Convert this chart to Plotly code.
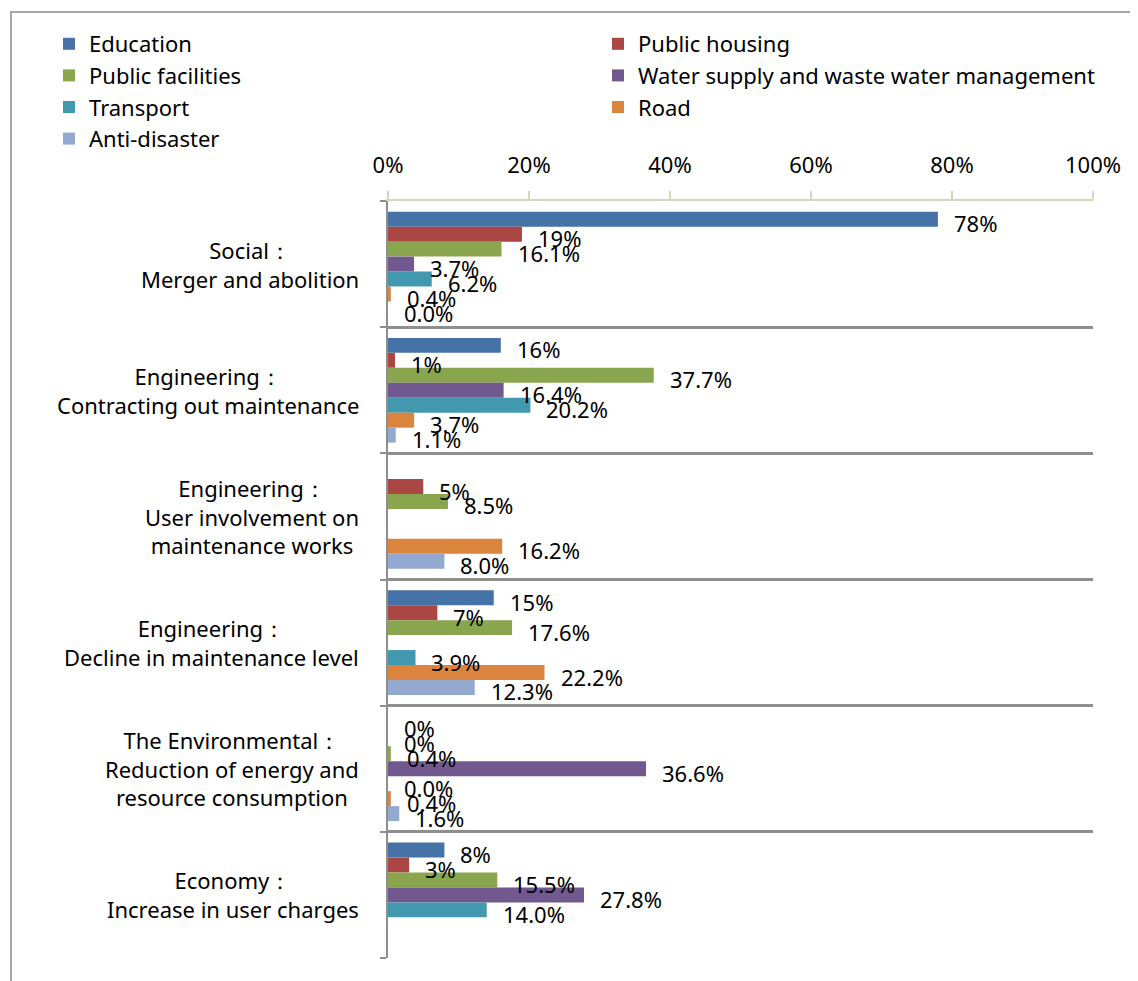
import plotly.graph_objects as go

# ---------------- data ----------------
categories = [
    "Social：<br>Merger and abolition",
    "Engineering：<br>Contracting out maintenance",
    "Engineering：<br>User involvement on<br>maintenance works",
    "Engineering：<br>Decline in maintenance level",
    "The Environmental：<br>Reduction of energy and<br>resource consumption",
    "Economy：<br>Increase in user charges",
]
series_names = ["Education", "Public housing", "Public facilities",
                "Water supply and waste water management", "Transport",
                "Road", "Anti-disaster"]
education = [78, 16, None, 15, 0, 8]
public_housing = [19, 1, 5, 7, 0, 3]
public_facilities = [16.1, 37.7, 8.5, 17.6, 0.4, 15.5]
water_supply = [3.7, 16.4, None, None, 36.6, 27.8]
transport = [6.2, 20.2, None, 3.9, 0.0, 14.0]
road = [0.4, 3.7, 16.2, 22.2, 0.4, None]
anti_disaster = [0.0, 1.1, 8.0, 12.3, 1.6, None]
label_decimals = [0, 0, 1, 1, 1, 1, 1]
x_ticks = [0, 20, 40, 60, 80, 100]
x_tick_labels = ["0%", "20%", "40%", "60%", "80%", "100%"]

series_values = [education, public_housing, public_facilities, water_supply,
                 transport, road, anti_disaster]
colors = ["#4572A7", "#AA4643", "#89A54E", "#71588F", "#4198AF", "#DB843D", "#93A9CF"]
legend_column = ["legend", "legend2", "legend", "legend2", "legend", "legend2", "legend"]

FONT = "Noto Sans"
FS = 22
BARGAP = 0.17

fig = go.Figure()
idx = list(range(len(categories)))
for name, vals, col, lg in zip(series_names, series_values, colors, legend_column):
    fig.add_trace(go.Bar(
        y=idx, x=vals, name=name, orientation="h", legend=lg,
        marker=dict(color=col, line=dict(width=0)),
    ))

annotations = []
n = len(series_values)
slot = (1 - BARGAP) / n
for i, (vals, dec) in enumerate(zip(series_values, label_decimals)):
    off = -(1 - BARGAP) / 2 + (i + 0.5) * slot
    for c, v in enumerate(vals):
        if v is None:
            continue
        annotations.append(dict(
            x=v, y=c + off, xref="x", yref="y", text=f"{v:.{dec}f}%",
            showarrow=False, xanchor="left", yanchor="middle",
            xshift=14, yshift=-4, font=dict(family=FONT, size=FS, color="#000000"),
        ))

for c, lab in enumerate(categories):
    annotations.append(dict(
        x=0, y=c, xref="paper", yref="y", text=lab, showarrow=False,
        xanchor="right", yanchor="middle", align="center", xshift=-27,
        font=dict(family=FONT, size=FS, color="#000000"),
    ))

# page has an 8px body margin; figure is sized so it ends at the window edge
OFF = 8
W, H = 1138 - OFF, 981 - OFF
L, R, T, B = 388 - OFF, 45, 201 - OFF, 23
pw, ph = W - L - R, H - T - B
def px_x(p):  # page pixel -> paper x
    return (p - OFF - L) / pw
def px_y(p):  # page pixel -> paper y
    return (H - B - (p - OFF)) / ph

shapes = [dict(type="rect", xref="paper", yref="paper",
               x0=px_x(11), x1=px_x(1137), y0=px_y(995), y1=px_y(12),
               line=dict(color="#A6A6A6", width=2), fillcolor="rgba(0,0,0,0)",
               layer="below")]

legend_common = dict(
    orientation="v", xref="container", yref="container",
    y=1 - 15 / H, xanchor="left", yanchor="top", traceorder="normal",
    font=dict(family=FONT, size=FS, color="#000000"),
    itemclick=False, bgcolor="rgba(0,0,0,0)",
)

fig.update_layout(
    width=W, height=H,
    margin=dict(l=L, r=R, t=T, b=B, pad=0, autoexpand=False),
    paper_bgcolor="white", plot_bgcolor="white",
    barmode="group", bargap=BARGAP, bargroupgap=0,
    font=dict(family=FONT, size=FS, color="#000000"),
    showlegend=True,
    legend=dict(x=41 / W, **legend_common),
    legend2=dict(x=590 / W, **legend_common),
    xaxis=dict(
        side="top", range=[0, 100], tickvals=x_ticks, ticktext=x_tick_labels,
        showgrid=False, zeroline=False, showline=True, linecolor="#D8D3BC",
        linewidth=2, ticks="outside", ticklen=8, tickcolor="#D8D3BC", tickwidth=2,
        ticklabelstandoff=9, tickfont=dict(family=FONT, size=FS, color="#000000"),
        fixedrange=True,
    ),
    yaxis=dict(
        type="linear", range=[len(categories) - 0.5, -0.5],
        tickvals=[k - 0.5 for k in range(len(categories) + 1)],
        showticklabels=False, showgrid=True, gridcolor="#8E8E8E", gridwidth=2.5,
        zeroline=False, showline=True, linecolor="#8E8E8E", linewidth=2,
        ticks="outside", ticklen=6, tickcolor="#8E8E8E", tickwidth=2,
        fixedrange=True,
    ),
    annotations=annotations,
    shapes=shapes,
)

fig.write_html("out.html")
